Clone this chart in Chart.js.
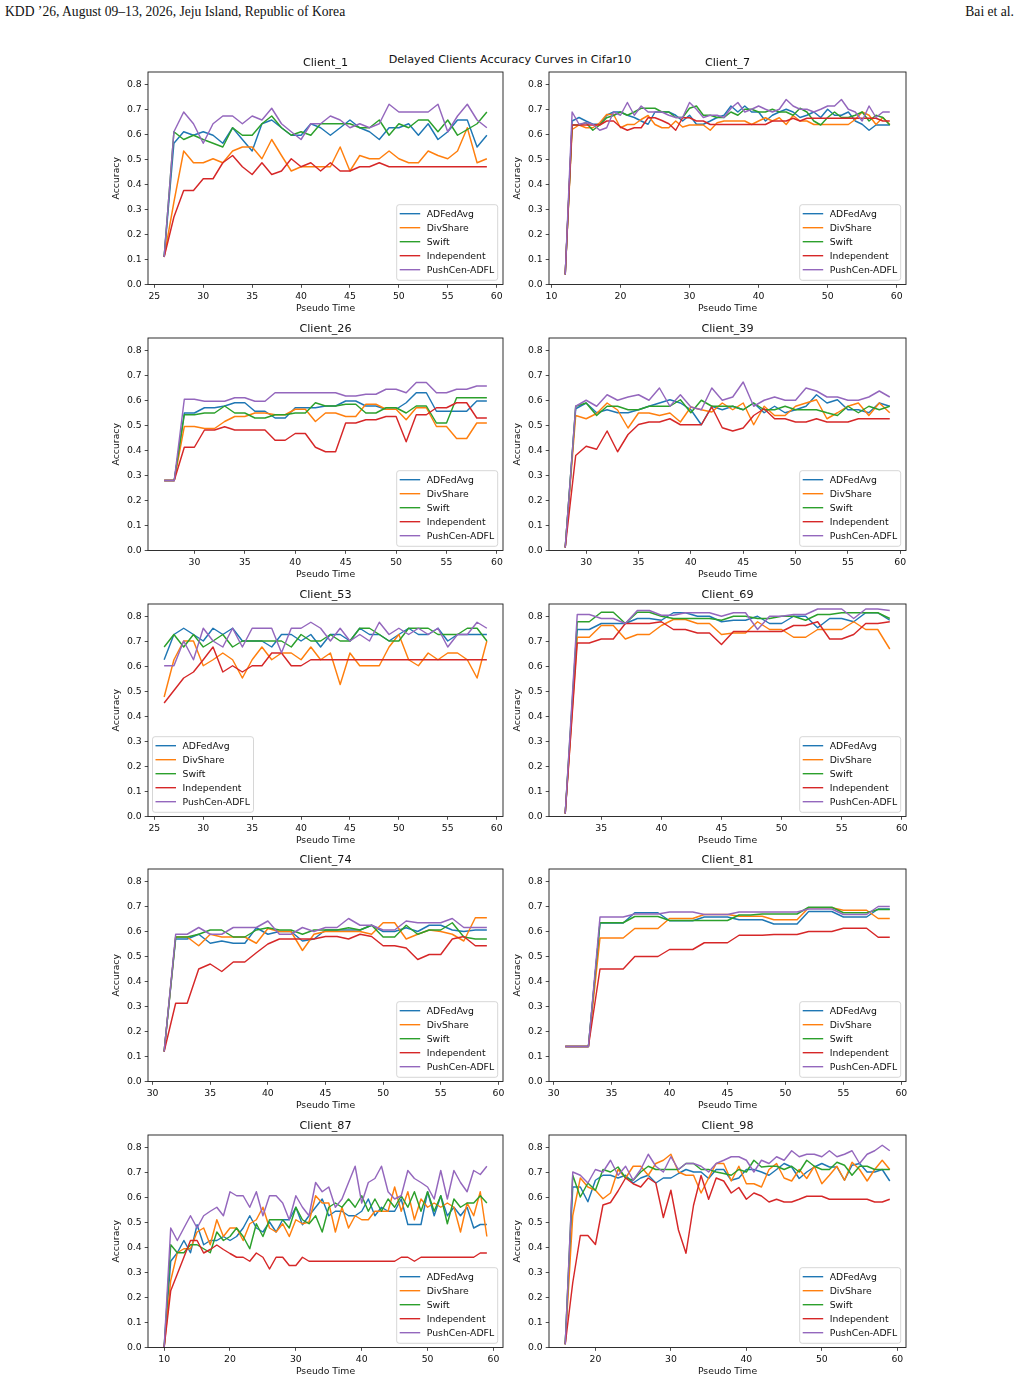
<!DOCTYPE html>
<html>
<head>
<meta charset="utf-8">
<script src="https://cdn.jsdelivr.net/npm/chart.js@4.4.1/dist/chart.umd.min.js"></script>
<style>
  body { margin: 0; background: #fff; width: 1020px; height: 1382px; position: relative; overflow: hidden; }
  .hdr { position: absolute; top: 4px; font-family: "Liberation Serif", serif; font-size: 13.6px; line-height: 16px; color: #111; white-space: nowrap; }
  #suptitle { position: absolute; left: 0; width: 1020px; top: 53px; text-align: center; font-family: "DejaVu Sans", sans-serif; font-size: 11.2px; line-height: 14px; color: #111; }
  canvas { position: absolute; }
</style>
</head>
<body>
<div class="hdr" style="left:5px">KDD ’26, August 09–13, 2026, Jeju Island, Republic of Korea</div>
<div class="hdr" style="right:6px">Bai et al.</div>
<div id="suptitle">Delayed Clients Accuracy Curves in Cifar10</div>
<script>
// ---- data ----
const methodNames = ['ADFedAvg', 'DivShare', 'Swift', 'Independent', 'PushCen-ADFL'];
const methodColors = ['#1f77b4', '#ff7f0e', '#2ca02c', '#d62728', '#9467bd'];
const clientNames = ['Client_1', 'Client_7', 'Client_26', 'Client_39', 'Client_53', 'Client_69', 'Client_74', 'Client_81', 'Client_87', 'Client_98'];
const startTimes = [26, 12, 27, 28, 26, 32, 31, 31, 10, 16]; // first pseudo time of each client, one point per step
const yTickValues = [0.0, 0.1, 0.2, 0.3, 0.4, 0.5, 0.6, 0.7, 0.8];
const xTicks5from25 = [25, 30, 35, 40, 45, 50, 55, 60];
const xTicks5from30 = [30, 35, 40, 45, 50, 55, 60];
const xTicks5from35 = [35, 40, 45, 50, 55, 60];
const xTicks10from10 = [10, 20, 30, 40, 50, 60];
const xTicks10from20 = [20, 30, 40, 50, 60];

// Client_1 (t = 26..59)
const c1_ADFedAvg = [0.11, 0.565, 0.611, 0.597, 0.611, 0.597, 0.565, 0.627, 0.58, 0.534, 0.643, 0.658, 0.627, 0.597, 0.597, 0.643, 0.627, 0.597, 0.627, 0.658, 0.627, 0.611, 0.58, 0.627, 0.627, 0.643, 0.597, 0.643, 0.58, 0.611, 0.658, 0.658, 0.55, 0.597];
const c1_DivShare = [0.11, 0.33, 0.534, 0.487, 0.487, 0.503, 0.487, 0.534, 0.55, 0.55, 0.503, 0.58, 0.516, 0.454, 0.471, 0.471, 0.471, 0.471, 0.55, 0.454, 0.516, 0.503, 0.503, 0.534, 0.503, 0.487, 0.487, 0.534, 0.516, 0.503, 0.534, 0.627, 0.487, 0.503];
const c1_Swift = [0.11, 0.611, 0.58, 0.597, 0.58, 0.565, 0.55, 0.627, 0.597, 0.597, 0.643, 0.674, 0.627, 0.597, 0.611, 0.597, 0.643, 0.643, 0.643, 0.643, 0.627, 0.627, 0.658, 0.597, 0.643, 0.627, 0.658, 0.658, 0.611, 0.658, 0.597, 0.62, 0.643, 0.69];
const c1_Independent = [0.11, 0.27, 0.376, 0.376, 0.423, 0.423, 0.487, 0.516, 0.471, 0.44, 0.487, 0.44, 0.454, 0.503, 0.471, 0.487, 0.454, 0.487, 0.454, 0.454, 0.471, 0.471, 0.487, 0.471, 0.471, 0.471, 0.471, 0.471, 0.471, 0.471, 0.471, 0.471, 0.471, 0.471];
const c1_PushCen = [0.11, 0.611, 0.69, 0.643, 0.565, 0.643, 0.674, 0.674, 0.643, 0.674, 0.658, 0.705, 0.643, 0.611, 0.58, 0.643, 0.643, 0.674, 0.658, 0.627, 0.643, 0.627, 0.643, 0.721, 0.69, 0.69, 0.69, 0.69, 0.721, 0.611, 0.674, 0.721, 0.658, 0.627];

// Client_7 (t = 12..59)
const c7_ADFedAvg = [0.04, 0.654, 0.668, 0.654, 0.641, 0.641, 0.677, 0.69, 0.69, 0.677, 0.668, 0.654, 0.641, 0.69, 0.69, 0.69, 0.677, 0.654, 0.677, 0.641, 0.641, 0.654, 0.668, 0.677, 0.714, 0.69, 0.714, 0.69, 0.69, 0.654, 0.677, 0.69, 0.701, 0.69, 0.668, 0.677, 0.69, 0.668, 0.701, 0.677, 0.677, 0.69, 0.654, 0.641, 0.617, 0.638, 0.638, 0.638];
const c7_DivShare = [0.04, 0.62, 0.638, 0.627, 0.627, 0.647, 0.68, 0.68, 0.627, 0.64, 0.64, 0.66, 0.676, 0.64, 0.627, 0.627, 0.654, 0.63, 0.638, 0.638, 0.638, 0.617, 0.647, 0.654, 0.654, 0.654, 0.654, 0.64, 0.654, 0.667, 0.654, 0.667, 0.64, 0.676, 0.654, 0.654, 0.64, 0.64, 0.64, 0.64, 0.64, 0.64, 0.66, 0.69, 0.677, 0.64, 0.668, 0.64];
const c7_Swift = [0.04, 0.638, 0.638, 0.647, 0.617, 0.638, 0.667, 0.676, 0.69, 0.677, 0.69, 0.705, 0.705, 0.705, 0.69, 0.69, 0.668, 0.668, 0.705, 0.714, 0.677, 0.677, 0.668, 0.668, 0.69, 0.677, 0.701, 0.701, 0.69, 0.69, 0.701, 0.69, 0.69, 0.677, 0.705, 0.69, 0.654, 0.638, 0.668, 0.69, 0.668, 0.668, 0.677, 0.69, 0.654, 0.677, 0.668, 0.638];
const c7_Independent = [0.04, 0.638, 0.638, 0.638, 0.638, 0.638, 0.654, 0.654, 0.63, 0.617, 0.627, 0.627, 0.667, 0.667, 0.656, 0.643, 0.617, 0.667, 0.667, 0.654, 0.654, 0.64, 0.64, 0.64, 0.64, 0.64, 0.64, 0.64, 0.64, 0.64, 0.654, 0.654, 0.654, 0.665, 0.654, 0.665, 0.665, 0.665, 0.665, 0.665, 0.665, 0.665, 0.665, 0.665, 0.665, 0.665, 0.654, 0.654];
const c7_PushCen = [0.04, 0.69, 0.641, 0.647, 0.641, 0.617, 0.627, 0.69, 0.677, 0.728, 0.677, 0.714, 0.69, 0.69, 0.69, 0.677, 0.668, 0.668, 0.728, 0.701, 0.668, 0.677, 0.677, 0.668, 0.705, 0.728, 0.69, 0.701, 0.714, 0.701, 0.69, 0.701, 0.74, 0.714, 0.701, 0.701, 0.69, 0.701, 0.714, 0.714, 0.74, 0.701, 0.69, 0.654, 0.714, 0.668, 0.69, 0.69];

// Client_26 (t = 27..59)
const c26_ADFedAvg = [0.28, 0.28, 0.55, 0.55, 0.571, 0.571, 0.578, 0.591, 0.591, 0.557, 0.557, 0.53, 0.53, 0.571, 0.571, 0.571, 0.578, 0.578, 0.598, 0.598, 0.578, 0.578, 0.565, 0.565, 0.591, 0.631, 0.631, 0.557, 0.557, 0.557, 0.557, 0.598, 0.598];
const c26_DivShare = [0.28, 0.28, 0.496, 0.496, 0.488, 0.488, 0.516, 0.536, 0.536, 0.55, 0.55, 0.543, 0.543, 0.565, 0.565, 0.516, 0.55, 0.55, 0.536, 0.536, 0.585, 0.585, 0.565, 0.565, 0.523, 0.571, 0.571, 0.496, 0.496, 0.448, 0.448, 0.51, 0.51];
const c26_Swift = [0.28, 0.28, 0.543, 0.543, 0.55, 0.55, 0.578, 0.55, 0.55, 0.53, 0.53, 0.543, 0.543, 0.55, 0.55, 0.591, 0.578, 0.578, 0.585, 0.585, 0.55, 0.55, 0.571, 0.571, 0.55, 0.578, 0.578, 0.51, 0.51, 0.611, 0.611, 0.611, 0.611];
const c26_Independent = [0.28, 0.28, 0.413, 0.413, 0.482, 0.482, 0.495, 0.482, 0.482, 0.482, 0.482, 0.441, 0.441, 0.468, 0.468, 0.413, 0.395, 0.395, 0.51, 0.51, 0.523, 0.523, 0.536, 0.536, 0.435, 0.543, 0.543, 0.571, 0.571, 0.591, 0.591, 0.53, 0.53];
const c26_PushCen = [0.28, 0.28, 0.605, 0.605, 0.597, 0.597, 0.597, 0.611, 0.611, 0.597, 0.597, 0.631, 0.631, 0.631, 0.631, 0.631, 0.631, 0.631, 0.618, 0.618, 0.625, 0.625, 0.645, 0.645, 0.631, 0.672, 0.672, 0.631, 0.631, 0.645, 0.645, 0.658, 0.658];

// Client_39 (t = 28..59)
const c39_ADFedAvg = [0.012, 0.567, 0.59, 0.551, 0.563, 0.551, 0.551, 0.563, 0.577, 0.59, 0.603, 0.59, 0.563, 0.503, 0.577, 0.563, 0.577, 0.563, 0.59, 0.551, 0.577, 0.551, 0.563, 0.577, 0.623, 0.59, 0.603, 0.563, 0.563, 0.551, 0.59, 0.577];
const c39_DivShare = [0.012, 0.54, 0.527, 0.548, 0.59, 0.562, 0.49, 0.55, 0.55, 0.54, 0.55, 0.514, 0.574, 0.563, 0.554, 0.59, 0.563, 0.59, 0.503, 0.577, 0.54, 0.54, 0.577, 0.59, 0.603, 0.527, 0.551, 0.577, 0.59, 0.54, 0.59, 0.551];
const c39_Swift = [0.012, 0.577, 0.59, 0.54, 0.577, 0.577, 0.563, 0.563, 0.577, 0.577, 0.577, 0.603, 0.551, 0.601, 0.577, 0.577, 0.577, 0.563, 0.59, 0.563, 0.563, 0.577, 0.563, 0.563, 0.563, 0.551, 0.54, 0.577, 0.551, 0.577, 0.563, 0.577];
const c39_Independent = [0.012, 0.38, 0.417, 0.405, 0.478, 0.395, 0.464, 0.504, 0.514, 0.514, 0.527, 0.503, 0.503, 0.503, 0.574, 0.491, 0.478, 0.49, 0.54, 0.567, 0.527, 0.527, 0.514, 0.514, 0.527, 0.514, 0.514, 0.514, 0.527, 0.527, 0.527, 0.527];
const c39_PushCen = [0.012, 0.577, 0.601, 0.577, 0.623, 0.601, 0.614, 0.623, 0.601, 0.65, 0.577, 0.623, 0.574, 0.563, 0.65, 0.601, 0.614, 0.674, 0.577, 0.601, 0.614, 0.601, 0.601, 0.65, 0.638, 0.614, 0.614, 0.601, 0.601, 0.614, 0.638, 0.614];

// Client_53 (t = 26..59)
const c53_ADFedAvg = [0.627, 0.728, 0.753, 0.728, 0.702, 0.753, 0.728, 0.753, 0.702, 0.702, 0.702, 0.678, 0.728, 0.728, 0.702, 0.728, 0.678, 0.728, 0.728, 0.702, 0.753, 0.728, 0.728, 0.702, 0.728, 0.753, 0.728, 0.728, 0.753, 0.702, 0.728, 0.728, 0.728, 0.728];
const c53_DivShare = [0.478, 0.627, 0.702, 0.702, 0.603, 0.627, 0.654, 0.627, 0.554, 0.627, 0.678, 0.627, 0.654, 0.654, 0.627, 0.678, 0.627, 0.654, 0.528, 0.654, 0.603, 0.603, 0.603, 0.678, 0.728, 0.627, 0.603, 0.654, 0.627, 0.654, 0.654, 0.627, 0.554, 0.702];
const c53_Swift = [0.678, 0.728, 0.678, 0.728, 0.678, 0.702, 0.728, 0.678, 0.702, 0.702, 0.702, 0.702, 0.702, 0.678, 0.728, 0.702, 0.702, 0.728, 0.702, 0.702, 0.753, 0.753, 0.728, 0.702, 0.702, 0.753, 0.753, 0.753, 0.728, 0.728, 0.728, 0.753, 0.753, 0.702];
const c53_Independent = [0.454, 0.504, 0.554, 0.578, 0.627, 0.678, 0.578, 0.603, 0.578, 0.603, 0.603, 0.654, 0.654, 0.603, 0.603, 0.627, 0.627, 0.627, 0.627, 0.627, 0.627, 0.627, 0.627, 0.627, 0.627, 0.627, 0.627, 0.627, 0.627, 0.627, 0.627, 0.627, 0.627, 0.627];
const c53_PushCen = [0.603, 0.603, 0.702, 0.627, 0.753, 0.702, 0.678, 0.753, 0.678, 0.753, 0.753, 0.753, 0.655, 0.753, 0.753, 0.777, 0.753, 0.702, 0.753, 0.702, 0.728, 0.702, 0.777, 0.728, 0.753, 0.728, 0.753, 0.728, 0.753, 0.678, 0.728, 0.728, 0.777, 0.753];

// Client_69 (t = 32..59)
const c69_ADFedAvg = [0.012, 0.748, 0.748, 0.772, 0.772, 0.772, 0.792, 0.792, 0.785, 0.815, 0.815, 0.801, 0.801, 0.779, 0.785, 0.785, 0.801, 0.772, 0.772, 0.801, 0.801, 0.755, 0.792, 0.792, 0.779, 0.815, 0.815, 0.785];
const c69_DivShare = [0.012, 0.717, 0.717, 0.764, 0.764, 0.71, 0.728, 0.728, 0.764, 0.788, 0.788, 0.772, 0.772, 0.728, 0.734, 0.734, 0.779, 0.748, 0.748, 0.717, 0.717, 0.748, 0.748, 0.748, 0.779, 0.748, 0.748, 0.67];
const c69_Swift = [0.012, 0.779, 0.779, 0.817, 0.817, 0.772, 0.817, 0.817, 0.801, 0.792, 0.792, 0.792, 0.792, 0.785, 0.801, 0.801, 0.792, 0.792, 0.801, 0.801, 0.785, 0.808, 0.808, 0.815, 0.815, 0.815, 0.815, 0.792];
const c69_Independent = [0.012, 0.694, 0.694, 0.71, 0.71, 0.772, 0.772, 0.772, 0.779, 0.748, 0.748, 0.734, 0.734, 0.688, 0.74, 0.74, 0.74, 0.74, 0.74, 0.764, 0.764, 0.779, 0.71, 0.71, 0.728, 0.772, 0.772, 0.779];
const c69_PushCen = [0.012, 0.808, 0.808, 0.792, 0.792, 0.772, 0.824, 0.824, 0.805, 0.805, 0.815, 0.815, 0.815, 0.801, 0.815, 0.815, 0.748, 0.801, 0.801, 0.808, 0.808, 0.83, 0.83, 0.83, 0.792, 0.83, 0.83, 0.824];

// Client_74 (t = 31..59)
const c74_ADFedAvg = [0.12, 0.57, 0.57, 0.589, 0.553, 0.562, 0.553, 0.553, 0.615, 0.589, 0.6, 0.6, 0.562, 0.57, 0.606, 0.606, 0.606, 0.606, 0.625, 0.6, 0.6, 0.615, 0.6, 0.625, 0.625, 0.606, 0.6, 0.606, 0.606];
const c74_DivShare = [0.12, 0.578, 0.578, 0.543, 0.589, 0.578, 0.578, 0.578, 0.553, 0.612, 0.6, 0.6, 0.524, 0.589, 0.6, 0.6, 0.6, 0.6, 0.589, 0.635, 0.635, 0.57, 0.589, 0.606, 0.6, 0.589, 0.562, 0.655, 0.655];
const c74_Swift = [0.12, 0.578, 0.578, 0.589, 0.606, 0.606, 0.578, 0.578, 0.606, 0.615, 0.606, 0.606, 0.589, 0.606, 0.606, 0.606, 0.615, 0.606, 0.625, 0.578, 0.578, 0.625, 0.589, 0.606, 0.606, 0.635, 0.578, 0.57, 0.57];
const c74_Independent = [0.12, 0.313, 0.313, 0.45, 0.47, 0.44, 0.478, 0.478, 0.515, 0.55, 0.57, 0.57, 0.57, 0.57, 0.58, 0.58, 0.57, 0.589, 0.58, 0.543, 0.543, 0.534, 0.488, 0.508, 0.508, 0.57, 0.58, 0.543, 0.543];
const c74_PushCen = [0.12, 0.589, 0.589, 0.616, 0.589, 0.589, 0.616, 0.616, 0.616, 0.642, 0.589, 0.589, 0.616, 0.6, 0.616, 0.616, 0.652, 0.625, 0.625, 0.606, 0.606, 0.642, 0.635, 0.635, 0.635, 0.652, 0.616, 0.616, 0.616];

// Client_81 (t = 31..59)
const c81_ADFedAvg = [0.14, 0.14, 0.14, 0.634, 0.634, 0.634, 0.675, 0.675, 0.675, 0.643, 0.643, 0.643, 0.658, 0.658, 0.658, 0.647, 0.647, 0.647, 0.63, 0.63, 0.63, 0.68, 0.68, 0.68, 0.658, 0.658, 0.658, 0.69, 0.69];
const c81_DivShare = [0.14, 0.14, 0.14, 0.574, 0.574, 0.574, 0.612, 0.612, 0.612, 0.652, 0.652, 0.652, 0.668, 0.668, 0.668, 0.661, 0.661, 0.661, 0.647, 0.647, 0.647, 0.695, 0.695, 0.695, 0.685, 0.685, 0.685, 0.652, 0.652];
const c81_Swift = [0.14, 0.14, 0.14, 0.635, 0.635, 0.635, 0.66, 0.66, 0.66, 0.644, 0.644, 0.644, 0.644, 0.644, 0.644, 0.666, 0.666, 0.67, 0.67, 0.67, 0.67, 0.697, 0.697, 0.697, 0.675, 0.675, 0.675, 0.688, 0.688];
const c81_Independent = [0.14, 0.14, 0.14, 0.45, 0.45, 0.45, 0.5, 0.5, 0.5, 0.528, 0.528, 0.528, 0.555, 0.555, 0.555, 0.585, 0.585, 0.585, 0.588, 0.588, 0.588, 0.6, 0.6, 0.6, 0.613, 0.613, 0.613, 0.577, 0.577];
const c81_PushCen = [0.14, 0.14, 0.14, 0.658, 0.658, 0.658, 0.67, 0.67, 0.67, 0.678, 0.678, 0.678, 0.668, 0.668, 0.668, 0.678, 0.678, 0.678, 0.678, 0.678, 0.678, 0.69, 0.69, 0.69, 0.668, 0.668, 0.668, 0.7, 0.7];

// Client_87 (t = 10..59)
const c87_ADFedAvg = [0.0, 0.345, 0.379, 0.428, 0.379, 0.491, 0.411, 0.428, 0.428, 0.444, 0.428, 0.444, 0.478, 0.527, 0.478, 0.462, 0.502, 0.462, 0.511, 0.511, 0.561, 0.491, 0.527, 0.561, 0.594, 0.527, 0.545, 0.545, 0.527, 0.527, 0.545, 0.594, 0.527, 0.561, 0.545, 0.545, 0.594, 0.492, 0.492, 0.492, 0.623, 0.527, 0.607, 0.527, 0.561, 0.527, 0.561, 0.478, 0.492, 0.492];
const c87_DivShare = [0.0, 0.268, 0.379, 0.395, 0.395, 0.462, 0.478, 0.411, 0.511, 0.444, 0.478, 0.478, 0.428, 0.495, 0.511, 0.561, 0.478, 0.462, 0.495, 0.444, 0.511, 0.495, 0.502, 0.607, 0.578, 0.578, 0.462, 0.561, 0.478, 0.527, 0.511, 0.511, 0.545, 0.545, 0.545, 0.642, 0.545, 0.623, 0.511, 0.594, 0.561, 0.578, 0.561, 0.578, 0.561, 0.462, 0.578, 0.527, 0.623, 0.444];
const c87_Swift = [0.0, 0.411, 0.379, 0.379, 0.411, 0.411, 0.395, 0.379, 0.462, 0.428, 0.444, 0.478, 0.444, 0.395, 0.495, 0.444, 0.511, 0.511, 0.511, 0.478, 0.561, 0.511, 0.495, 0.527, 0.462, 0.561, 0.578, 0.561, 0.594, 0.561, 0.607, 0.545, 0.594, 0.545, 0.594, 0.561, 0.607, 0.561, 0.623, 0.545, 0.623, 0.545, 0.607, 0.495, 0.594, 0.561, 0.578, 0.578, 0.607, 0.578];
const c87_Independent = [0.0, 0.227, 0.294, 0.361, 0.428, 0.428, 0.378, 0.392, 0.41, 0.392, 0.376, 0.361, 0.361, 0.345, 0.378, 0.361, 0.314, 0.361, 0.361, 0.328, 0.328, 0.361, 0.345, 0.345, 0.345, 0.345, 0.345, 0.345, 0.345, 0.345, 0.345, 0.345, 0.345, 0.345, 0.345, 0.345, 0.361, 0.361, 0.345, 0.361, 0.361, 0.361, 0.361, 0.361, 0.361, 0.361, 0.361, 0.361, 0.378, 0.378];
const c87_PushCen = [0.0, 0.478, 0.428, 0.478, 0.527, 0.478, 0.527, 0.545, 0.561, 0.527, 0.623, 0.607, 0.607, 0.561, 0.623, 0.527, 0.607, 0.607, 0.578, 0.511, 0.607, 0.561, 0.527, 0.66, 0.623, 0.642, 0.561, 0.594, 0.66, 0.725, 0.578, 0.66, 0.676, 0.725, 0.623, 0.594, 0.607, 0.708, 0.676, 0.66, 0.642, 0.594, 0.708, 0.594, 0.708, 0.66, 0.623, 0.708, 0.692, 0.725];

// Client_98 (t = 16..59)
const c98_ADFedAvg = [0.013, 0.642, 0.642, 0.583, 0.669, 0.689, 0.689, 0.678, 0.689, 0.658, 0.678, 0.689, 0.658, 0.678, 0.678, 0.696, 0.712, 0.702, 0.702, 0.676, 0.712, 0.712, 0.669, 0.678, 0.712, 0.712, 0.702, 0.689, 0.712, 0.736, 0.722, 0.676, 0.702, 0.722, 0.736, 0.722, 0.722, 0.669, 0.729, 0.736, 0.702, 0.702, 0.712, 0.666];
const c98_DivShare = [0.013, 0.528, 0.678, 0.642, 0.629, 0.595, 0.618, 0.712, 0.678, 0.725, 0.725, 0.689, 0.736, 0.749, 0.773, 0.702, 0.689, 0.689, 0.618, 0.678, 0.736, 0.736, 0.666, 0.725, 0.655, 0.655, 0.642, 0.712, 0.736, 0.678, 0.666, 0.712, 0.676, 0.725, 0.655, 0.689, 0.725, 0.669, 0.741, 0.712, 0.666, 0.712, 0.749, 0.712];
const c98_Swift = [0.013, 0.689, 0.602, 0.658, 0.629, 0.712, 0.702, 0.722, 0.678, 0.669, 0.702, 0.725, 0.712, 0.712, 0.712, 0.712, 0.736, 0.736, 0.712, 0.712, 0.702, 0.696, 0.689, 0.712, 0.702, 0.749, 0.722, 0.725, 0.725, 0.712, 0.725, 0.702, 0.749, 0.725, 0.712, 0.712, 0.741, 0.729, 0.689, 0.725, 0.725, 0.712, 0.712, 0.712];
const c98_Independent = [0.013, 0.26, 0.448, 0.448, 0.412, 0.57, 0.58, 0.626, 0.678, 0.655, 0.642, 0.678, 0.658, 0.52, 0.629, 0.47, 0.377, 0.569, 0.688, 0.593, 0.678, 0.666, 0.618, 0.64, 0.593, 0.618, 0.606, 0.582, 0.593, 0.582, 0.582, 0.593, 0.605, 0.605, 0.605, 0.593, 0.593, 0.593, 0.593, 0.593, 0.593, 0.582, 0.582, 0.593];
const c98_PushCen = [0.013, 0.702, 0.689, 0.658, 0.712, 0.702, 0.749, 0.689, 0.725, 0.669, 0.712, 0.773, 0.725, 0.702, 0.763, 0.712, 0.736, 0.736, 0.725, 0.702, 0.736, 0.749, 0.763, 0.763, 0.749, 0.702, 0.749, 0.736, 0.763, 0.749, 0.787, 0.763, 0.773, 0.773, 0.763, 0.787, 0.763, 0.773, 0.787, 0.736, 0.773, 0.787, 0.809, 0.787];

const panels = [
  { series: [c1_ADFedAvg, c1_DivShare, c1_Swift, c1_Independent, c1_PushCen], xTicks: xTicks5from25, legendLeft: false },
  { series: [c7_ADFedAvg, c7_DivShare, c7_Swift, c7_Independent, c7_PushCen], xTicks: xTicks10from10, legendLeft: false },
  { series: [c26_ADFedAvg, c26_DivShare, c26_Swift, c26_Independent, c26_PushCen], xTicks: xTicks5from30, legendLeft: false },
  { series: [c39_ADFedAvg, c39_DivShare, c39_Swift, c39_Independent, c39_PushCen], xTicks: xTicks5from30, legendLeft: false },
  { series: [c53_ADFedAvg, c53_DivShare, c53_Swift, c53_Independent, c53_PushCen], xTicks: xTicks5from25, legendLeft: true },
  { series: [c69_ADFedAvg, c69_DivShare, c69_Swift, c69_Independent, c69_PushCen], xTicks: xTicks5from35, legendLeft: false },
  { series: [c74_ADFedAvg, c74_DivShare, c74_Swift, c74_Independent, c74_PushCen], xTicks: xTicks5from30, legendLeft: false },
  { series: [c81_ADFedAvg, c81_DivShare, c81_Swift, c81_Independent, c81_PushCen], xTicks: xTicks5from30, legendLeft: false },
  { series: [c87_ADFedAvg, c87_DivShare, c87_Swift, c87_Independent, c87_PushCen], xTicks: xTicks10from10, legendLeft: false },
  { series: [c98_ADFedAvg, c98_DivShare, c98_Swift, c98_Independent, c98_PushCen], xTicks: xTicks10from20, legendLeft: false }
];

// ---- layout (px) ----
const colLeft = [148, 549];
const colWidth = [355, 357];
const rowTop = [72, 338, 604, 869, 1135];
const FRAME_H = 212.5;
const PAD_L = 55, PAD_T = 22, PAD_R = 8, AX_H = 36.5;
const FS = 9.3;

Chart.defaults.font.family = '"DejaVu Sans", sans-serif';
Chart.defaults.color = '#111';

// frame, subplot title and matplotlib-like legend box
const panelDecor = {
  id: 'panelDecor',
  afterDatasetsDraw(chart, args, opts) {
    const { ctx, chartArea: a } = chart;
    ctx.save();
    ctx.strokeStyle = '#1a1a1a';
    ctx.lineWidth = 0.9;
    ctx.strokeRect(a.left, a.top, a.right - a.left, a.bottom - a.top);

    ctx.fillStyle = '#111';
    ctx.font = '11.2px "DejaVu Sans"';
    ctx.textAlign = 'center';
    ctx.textBaseline = 'alphabetic';
    ctx.fillText(opts.title, (a.left + a.right) / 2, a.top - 5.8);

    const w = 101, h = 75.6;
    const x0 = opts.legendLeft ? a.left + 4.5 : a.right - 5.3 - w;
    const y0 = a.bottom - 4.2 - h;
    ctx.beginPath();
    ctx.roundRect(x0, y0, w, h, 2.5);
    ctx.fillStyle = 'rgba(255,255,255,0.8)';
    ctx.fill();
    ctx.strokeStyle = '#cccccc';
    ctx.lineWidth = 0.8;
    ctx.stroke();
    ctx.font = FS + 'px "DejaVu Sans"';
    ctx.textAlign = 'left';
    ctx.textBaseline = 'middle';
    chart.data.datasets.forEach((ds, i) => {
      const y = y0 + 9 + i * 14;
      ctx.beginPath();
      ctx.moveTo(x0 + 3, y);
      ctx.lineTo(x0 + 23.5, y);
      ctx.strokeStyle = ds.borderColor;
      ctx.lineWidth = 1.4;
      ctx.stroke();
      ctx.fillStyle = '#111';
      ctx.fillText(ds.label, x0 + 30, y + 0.5);
    });
    ctx.restore();
  }
};

panels.forEach((p, idx) => {
  const col = idx % 2, row = Math.floor(idx / 2);
  const W = PAD_L + colWidth[col] + PAD_R, H = PAD_T + FRAME_H + AX_H;
  const cv = document.createElement('canvas');
  cv.width = W; cv.height = H;
  cv.style.width = W + 'px'; cv.style.height = H + 'px';
  cv.style.left = (colLeft[col] - PAD_L) + 'px';
  cv.style.top = (rowTop[row] - PAD_T) + 'px';
  document.body.appendChild(cv);

  const first = startTimes[idx];
  const last = first + p.series[0].length - 1;
  const margin = 0.05 * (last - first);
  const tickStyle = { font: { size: FS }, color: '#111', padding: 3.5, autoSkip: false, maxRotation: 0 };
  const gridStyle = { drawOnChartArea: false, drawTicks: true, tickLength: 3.3, color: '#222', lineWidth: 0.8 };

  new Chart(cv, {
    type: 'line',
    data: {
      datasets: p.series.map((vals, i) => ({
        label: methodNames[i],
        data: vals.map((v, k) => ({ x: first + k, y: v })),
        borderColor: methodColors[i],
        backgroundColor: methodColors[i],
        borderWidth: 1.45,
        borderJoinStyle: 'round',
        pointRadius: 0,
        tension: 0,
        fill: false,
        order: methodNames.length - i
      }))
    },
    options: {
      responsive: false,
      animation: false,
      devicePixelRatio: 1,
      events: [],
      layout: { padding: { left: 0, top: PAD_T, right: PAD_R, bottom: 0 } },
      plugins: {
        legend: { display: false },
        tooltip: { enabled: false },
        panelDecor: { title: clientNames[idx], legendLeft: p.legendLeft }
      },
      scales: {
        x: {
          type: 'linear',
          min: first - margin,
          max: last + margin,
          afterFit: s => { s.height = AX_H; },
          afterBuildTicks: s => { s.ticks = p.xTicks.map(v => ({ value: v })); },
          ticks: Object.assign({ callback: v => String(v) }, tickStyle),
          grid: gridStyle,
          border: { display: false },
          title: { display: true, text: 'Pseudo Time', color: '#111', font: { size: FS }, padding: { top: 0, bottom: 6.9 } }
        },
        y: {
          type: 'linear',
          min: 0,
          max: 0.85,
          afterFit: s => { s.width = PAD_L; },
          afterBuildTicks: s => { s.ticks = yTickValues.map(v => ({ value: v })); },
          ticks: Object.assign({ callback: v => v.toFixed(1) }, tickStyle, { padding: 3 }),
          grid: gridStyle,
          border: { display: false },
          title: { display: true, text: 'Accuracy', color: '#111', font: { size: FS }, padding: { top: 18.4, bottom: 0 } }
        }
      }
    },
    plugins: [panelDecor]
  });
});
</script>
</body>
</html>
